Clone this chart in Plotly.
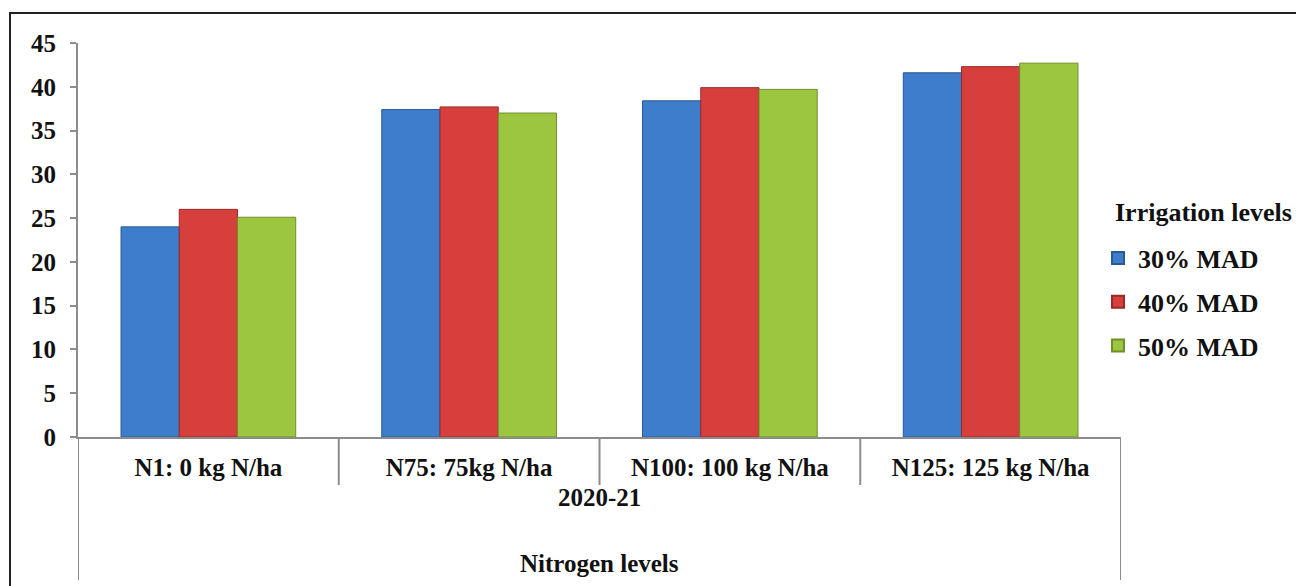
import plotly.graph_objects as go

categories = ["N1: 0 kg N/ha", "N75: 75kg N/ha", "N100: 100 kg N/ha", "N125: 125 kg N/ha"]
series_names = ["30% MAD", "40% MAD", "50% MAD"]
mad30 = [24.0, 37.4, 38.4, 41.6]
mad40 = [26.0, 37.7, 39.9, 42.3]
mad50 = [25.1, 37.0, 39.7, 42.7]
year_label = "2020-21"
x_title = "Nitrogen levels"
legend_title = "Irrigation levels"
y_ticks = [0, 5, 10, 15, 20, 25, 30, 35, 40, 45]

colors = ["#3D7DCC", "#D63F3B", "#9CC63F"]
line_colors = ["#2A5A96", "#9A2A28", "#6E8F2A"]

FONT = "Liberation Serif, Times New Roman, serif"
W, H = 1296, 586
L, R, T, B = 78, 175, 43, 149
pw = W - L - R
ph = H - T - B

fig = go.Figure()
for i, (name, vals) in enumerate(zip(series_names, [mad30, mad40, mad50])):
    fig.add_trace(go.Bar(
        x=categories, y=vals, name=name, legendgroup=name,
        marker=dict(color=colors[i], line=dict(color=line_colors[i], width=1)),
    ))

n = len(categories)
shapes = []
for k in range(n + 1):
    xb = k - 0.5
    outer = k in (0, n)
    shapes.append(dict(type="line", xref="x", yref="paper", x0=xb, x1=xb,
                       y0=0, y1=(-(H - 6 - T - ph) / ph) if outer else (-48 / ph),
                       line=dict(color="#8C8C8C", width=2)))
shapes.append(dict(type="rect", xref="paper", yref="paper",
                   x0=(10 - L) / pw, x1=(W + 10 - L) / pw,
                   y0=-(H + 10 - T - ph) / ph, y1=(ph + T - 13) / ph,
                   line=dict(color="#222222", width=2), fillcolor="rgba(0,0,0,0)", layer="below"))

fig.update_layout(
    width=W, height=H,
    margin=dict(l=L, r=R, t=T, b=B),
    paper_bgcolor="white", plot_bgcolor="white",
    barmode="group", bargap=0.33, bargroupgap=0,
    font=dict(family=FONT, size=25, color="#111111"),
    shapes=shapes,
    legend=dict(
        x=(1098 - L) / pw, xanchor="left", y=(ph + T - 302) / ph, yanchor="middle",
        font=dict(family=FONT, size=26, color="#111111", weight="bold"),
        tracegroupgap=7, itemsizing="constant",
        bgcolor="rgba(0,0,0,0)",
    ),
    annotations=[
        dict(text="<b>" + legend_title + "</b>", xref="paper", yref="paper",
             x=(1203 - L) / pw, y=(ph + T - 212) / ph, xanchor="center", yanchor="middle",
             showarrow=False, font=dict(family=FONT, size=26)),
        dict(text="<b>" + year_label + "</b>", xref="paper", yref="paper", x=0.5, y=0,
             yshift=-60, yanchor="middle", showarrow=False, font=dict(family=FONT, size=25)),
        dict(text="<b>" + x_title + "</b>", xref="paper", yref="paper", x=0.5, y=0,
             yshift=-126, yanchor="middle", showarrow=False, font=dict(family=FONT, size=25)),
    ],
)
fig.update_xaxes(
    type="category", showline=True, linecolor="#8C8C8C", linewidth=2,
    ticks="", showgrid=False, zeroline=False, ticklabelstandoff=7,
    tickfont=dict(family=FONT, size=25, weight="bold", color="#111111"),
    range=[-0.5, n - 0.5],
)
fig.update_yaxes(
    range=[0, 45], tickvals=y_ticks, showline=True, linecolor="#8C8C8C", linewidth=2,
    ticks="outside", ticklen=6, tickcolor="#8C8C8C", tickwidth=2,
    showgrid=False, zeroline=False, ticklabelstandoff=9,
    tickfont=dict(family=FONT, size=25, weight="bold", color="#111111"),
)

fig.write_html("out.html", config={"displayModeBar": False},
               post_script="document.body.style.margin='0';")
